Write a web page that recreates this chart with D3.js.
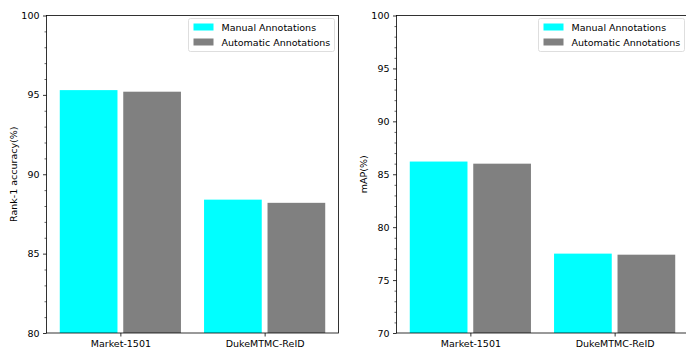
<!DOCTYPE html>
<html>
<head>
<meta charset="utf-8">
<script src="https://cdn.jsdelivr.net/npm/d3@7"></script>
<style>
  body { margin: 0; background: #fff; }
  svg { display: block; font-family: "DejaVu Sans", sans-serif; }
  .tick text { font-size: 9.5px; fill: #000; }
</style>
</head>
<body>
<div id="chart"></div>
<script>
// data
const datasets = ["Market-1501", "DukeMTMC-ReID"];
const seriesNames = ["Manual Annotations", "Automatic Annotations"];
const rank1Manual = [95.3, 88.4];
const rank1Auto = [95.2, 88.2];
const mapManual = [86.2, 77.5];
const mapAuto = [86.0, 77.4];
const rank1Ticks = [80, 85, 90, 95, 100];
const mapTicks = [70, 75, 80, 85, 90, 95, 100];

const colors = ["#00ffff", "#808080"];
const W = 686, H = 348;

const svg = d3.select("#chart").append("svg")
    .attr("width", W)
    .attr("height", H);

const barW = 0.4, offset = 0.22;

function panel(opts) {
    const { left, right, top, bottom, yDomain, ticks, label, labelX, manual, auto } = opts;

    const x = d3.scaleLinear()
        .domain([-offset - barW / 2 - 0.092, 1 + offset + barW / 2 + 0.092])
        .range([left, right]);
    const y = d3.scaleLinear().domain(yDomain).range([bottom, top]);

    const g = svg.append("g");

    // bars
    const rows = [];
    datasets.forEach((d, i) => {
        rows.push({ i, s: 0, v: manual[i] });
        rows.push({ i, s: 1, v: auto[i] });
    });
    g.selectAll("rect.bar")
        .data(rows)
        .enter()
        .append("rect")
        .attr("class", "bar")
        .attr("x", d => x(d.i + (d.s === 0 ? -offset : offset) - barW / 2))
        .attr("width", d => x(barW) - x(0))
        .attr("y", d => y(d.v))
        .attr("height", d => y(yDomain[0]) - y(d.v))
        .attr("fill", d => colors[d.s]);

    // minor ticks
    const minor = d3.range(yDomain[0], yDomain[1] + 1, 1).filter(v => !ticks.includes(v));
    g.append("g")
        .attr("transform", `translate(${left},0)`)
        .call(d3.axisLeft(y).tickValues(minor).tickSize(2).tickFormat(""))
        .call(a => a.select(".domain").remove())
        .selectAll("line").attr("stroke-width", 0.6);

    // major y ticks
    g.append("g")
        .attr("transform", `translate(${left},0)`)
        .call(d3.axisLeft(y).tickValues(ticks).tickSize(3.5).tickPadding(3.5))
        .call(a => a.select(".domain").remove())
        .call(a => a.selectAll("text").attr("font-family", "DejaVu Sans"))
        .selectAll("line").attr("stroke-width", 0.8);

    // x ticks
    g.append("g")
        .attr("transform", `translate(0,${bottom})`)
        .call(d3.axisBottom(x).tickValues([0, 1]).tickSize(3.5).tickPadding(3.5)
            .tickFormat(i => datasets[i]))
        .call(a => a.select(".domain").remove())
        .call(a => a.selectAll("text").attr("font-family", "DejaVu Sans"))
        .selectAll("line").attr("stroke-width", 0.8);

    // spines
    g.append("rect")
        .attr("x", left).attr("y", top)
        .attr("width", right - left).attr("height", bottom - top)
        .attr("fill", "none").attr("stroke", "#000").attr("stroke-width", 0.8);

    // y label
    g.append("text")
        .attr("transform", `translate(${labelX},${(top + bottom) / 2}) rotate(-90)`)
        .attr("text-anchor", "middle")
        .attr("font-size", 9.5)
        .text(label);

    // legend
    const lg = g.append("g").attr("transform", `translate(${right - 150},${top + 3})`);
    lg.append("rect")
        .attr("width", 146).attr("height", 33)
        .attr("rx", 2)
        .attr("fill", "#fff").attr("fill-opacity", 0.8)
        .attr("stroke", "#d6d6d6").attr("stroke-width", 0.8);
    seriesNames.forEach((s, k) => {
        lg.append("rect")
            .attr("x", 5).attr("y", 5 + k * 15)
            .attr("width", 20).attr("height", 7)
            .attr("fill", colors[k]);
        lg.append("text")
            .attr("x", 33).attr("y", 12 + k * 15)
            .attr("font-size", 9.5)
            .text(s);
    });
}

panel({
    left: 46.5, right: 338.5, top: 15.5, bottom: 333,
    yDomain: [80, 100], ticks: rank1Ticks,
    label: "Rank-1 accuracy(%)", labelX: 17,
    manual: rank1Manual, auto: rank1Auto
});

panel({
    left: 396.5, right: 688.5, top: 15.5, bottom: 333,
    yDomain: [70, 100], ticks: mapTicks,
    label: "mAP(%)", labelX: 367,
    manual: mapManual, auto: mapAuto
});
</script>
</body>
</html>
